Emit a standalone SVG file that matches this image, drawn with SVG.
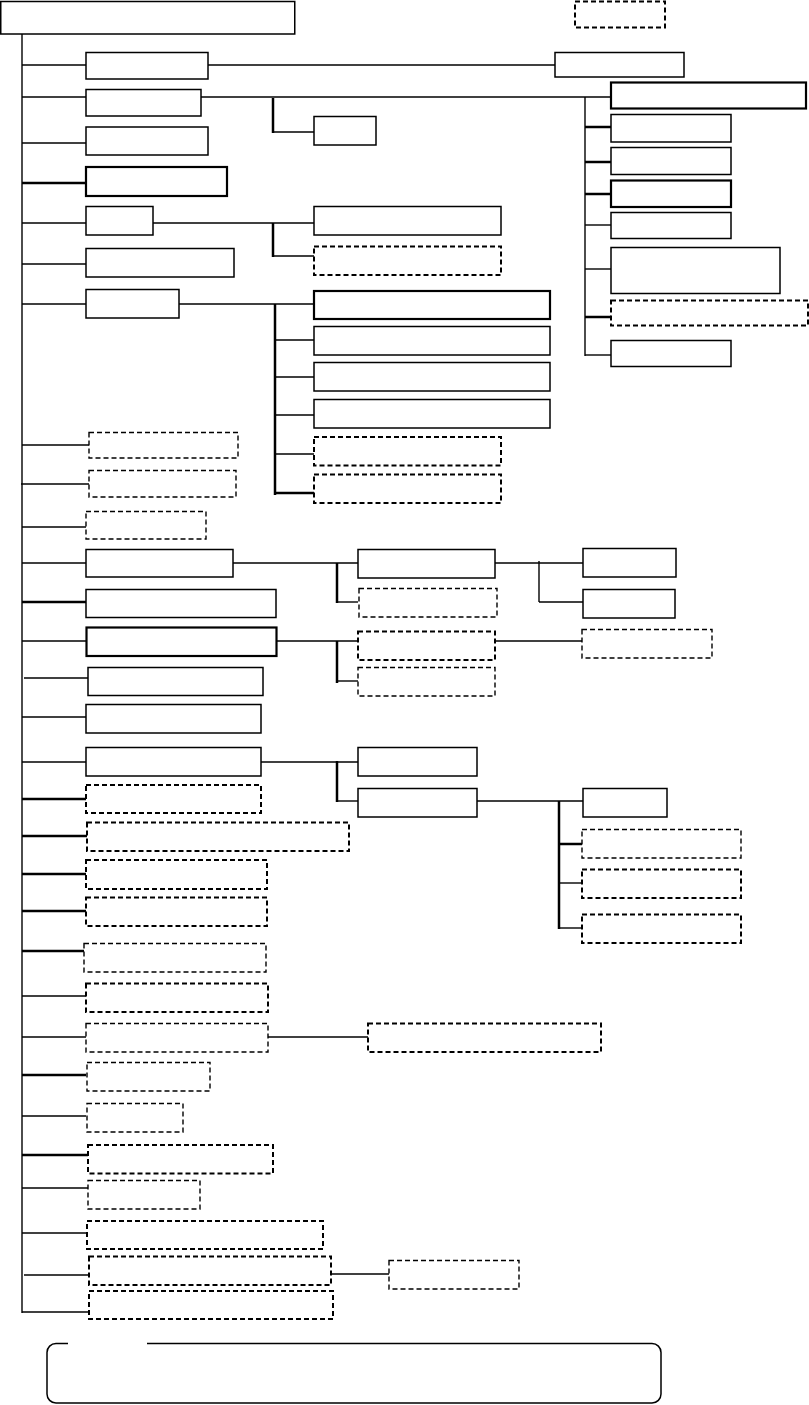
<svg xmlns="http://www.w3.org/2000/svg" width="809" height="1405" viewBox="0 0 809 1405">
<style>
rect{fill:#fff;stroke:#000;stroke-width:1.5}
.tk{stroke-width:2.2}
.d{stroke-dasharray:5 3;stroke-width:1.4}
.dt{stroke-dasharray:5 3;stroke-width:2}
#connectors line,#connectors path{stroke:#000;stroke-width:1.4;fill:none}
#connectors .t{stroke-width:2.5}
</style>
<g id="connectors">
<line x1="22" y1="34" x2="22" y2="1313"/>
<line x1="22" y1="65" x2="86" y2="65"/><line x1="208" y1="65" x2="555" y2="65"/>
<line x1="22" y1="97" x2="86" y2="97"/><line x1="201" y1="97" x2="611" y2="97"/>
<line class="t" x1="273" y1="98" x2="273" y2="133"/><line x1="273" y1="132" x2="314" y2="132"/>
<line x1="585" y1="97" x2="585" y2="356"/>
<line class="t" x1="585" y1="127" x2="611" y2="127"/>
<line class="t" x1="585" y1="162" x2="611" y2="162"/>
<line class="t" x1="585" y1="194" x2="611" y2="194"/>
<line x1="585" y1="225" x2="611" y2="225"/>
<line x1="585" y1="269" x2="611" y2="269"/>
<line class="t" x1="585" y1="317" x2="611" y2="317"/>
<line x1="585" y1="355" x2="611" y2="355"/>
<line x1="22" y1="143" x2="86" y2="143"/>
<line class="t" x1="22" y1="183" x2="86" y2="183"/>
<line x1="22" y1="223" x2="86" y2="223"/><line x1="153" y1="223" x2="314" y2="223"/>
<line class="t" x1="273" y1="223" x2="273" y2="257"/><line x1="273" y1="256" x2="314" y2="256"/>
<line x1="22" y1="264" x2="86" y2="264"/>
<line x1="22" y1="304" x2="86" y2="304"/><line x1="179" y1="304" x2="314" y2="304"/>
<line class="t" x1="275" y1="304" x2="275" y2="495"/>
<line x1="275" y1="340" x2="314" y2="340"/>
<line x1="275" y1="377" x2="314" y2="377"/>
<line x1="275" y1="415" x2="314" y2="415"/>
<line x1="275" y1="454" x2="314" y2="454"/>
<line class="t" x1="275" y1="493" x2="314" y2="493"/>
<line x1="22" y1="445" x2="89" y2="445"/>
<line x1="21" y1="484" x2="89" y2="484"/>
<line x1="22" y1="527" x2="86" y2="527"/>
<line x1="22" y1="563" x2="86" y2="563"/><line x1="233" y1="563" x2="358" y2="563"/>
<line class="t" x1="337" y1="563" x2="337" y2="603"/><line x1="337" y1="602" x2="358" y2="602"/>
<line x1="495" y1="563" x2="583" y2="563"/>
<line x1="539" y1="561" x2="539" y2="602"/><line x1="539" y1="602" x2="583" y2="602"/>
<line class="t" x1="22" y1="602" x2="86" y2="602"/>
<line x1="22" y1="641" x2="86" y2="641"/><line x1="276" y1="641" x2="358" y2="641"/>
<line class="t" x1="337" y1="641" x2="337" y2="683"/><line x1="337" y1="681" x2="358" y2="681"/>
<line x1="495" y1="641" x2="582" y2="641"/>
<line x1="24" y1="678" x2="88" y2="678"/>
<line x1="22" y1="717" x2="86" y2="717"/>
<line x1="22" y1="762" x2="86" y2="762"/><line x1="261" y1="762" x2="358" y2="762"/>
<line class="t" x1="337" y1="761" x2="337" y2="802"/><line x1="337" y1="801" x2="358" y2="801"/>
<line x1="477" y1="801" x2="583" y2="801"/>
<line class="t" x1="559" y1="801" x2="559" y2="929"/>
<line class="t" x1="559" y1="844" x2="582" y2="844"/>
<line x1="559" y1="883" x2="582" y2="883"/>
<line x1="559" y1="928" x2="582" y2="928"/>
<line class="t" x1="22" y1="799" x2="86" y2="799"/>
<line class="t" x1="22" y1="836" x2="87" y2="836"/>
<line class="t" x1="22" y1="874" x2="86" y2="874"/>
<line class="t" x1="22" y1="911" x2="86" y2="911"/>
<line class="t" x1="22" y1="951" x2="84" y2="951"/>
<line x1="22" y1="996" x2="86" y2="996"/>
<line x1="22" y1="1037" x2="86" y2="1037"/><line x1="268" y1="1037" x2="368" y2="1037"/>
<line class="t" x1="22" y1="1075" x2="86" y2="1075"/>
<line x1="22" y1="1116" x2="86" y2="1116"/>
<line class="t" x1="22" y1="1155" x2="88" y2="1155"/>
<line x1="22" y1="1188" x2="88" y2="1188"/>
<line x1="22" y1="1233" x2="87" y2="1233"/>
<line x1="24" y1="1275" x2="89" y2="1275"/><line x1="331" y1="1274" x2="389" y2="1274"/>
<line x1="22" y1="1312" x2="89" y2="1312"/>
</g>
<g id="root"><rect x="0.75" y="1.5" width="294" height="32.5"/></g>
<g id="tag"><rect class="dt" x="575" y="1.5" width="90" height="26"/></g>
<g id="n1"><rect x="86" y="52.5" width="122" height="26.5"/></g>
<g id="n1a"><rect x="555" y="52.5" width="129" height="24.5"/></g>
<g id="n2"><rect x="86" y="89.5" width="115" height="26.5"/></g>
<g id="n2a"><rect x="314" y="116.5" width="62" height="28.5"/></g>
<g id="r1"><rect class="tk" x="611" y="82.5" width="195" height="26"/></g>
<g id="r2"><rect x="611" y="114.5" width="120" height="27.5"/></g>
<g id="r3"><rect x="611" y="147.5" width="120" height="27"/></g>
<g id="r4"><rect class="tk" x="611" y="180.5" width="120" height="26.5"/></g>
<g id="r5"><rect x="611" y="212.5" width="120" height="26"/></g>
<g id="r6"><rect x="611" y="247.5" width="169" height="46"/></g>
<g id="r7"><rect class="dt" x="611" y="300.5" width="197" height="25"/></g>
<g id="r8"><rect x="611" y="340.5" width="120" height="26"/></g>
<g id="n3"><rect x="86" y="127" width="122" height="28"/></g>
<g id="n4"><rect class="tk" x="86" y="167" width="141" height="29"/></g>
<g id="n5"><rect x="86" y="206.5" width="67" height="28.5"/></g>
<g id="n5a"><rect x="314" y="206.5" width="187" height="28.5"/></g>
<g id="n5b"><rect class="dt" x="314" y="246.5" width="187" height="28.5"/></g>
<g id="n6"><rect x="86" y="248.5" width="148" height="28.5"/></g>
<g id="n7"><rect x="86" y="289.5" width="93" height="28.5"/></g>
<g id="m1"><rect class="tk" x="314" y="291" width="236" height="28"/></g>
<g id="m2"><rect x="314" y="326.5" width="236" height="28.5"/></g>
<g id="m3"><rect x="314" y="362.5" width="236" height="28.5"/></g>
<g id="m4"><rect x="314" y="399.5" width="236" height="28.5"/></g>
<g id="m5"><rect class="dt" x="314" y="437" width="187" height="28.5"/></g>
<g id="m6"><rect class="dt" x="314" y="474.5" width="187" height="28.5"/></g>
<g id="n8"><rect class="d" x="89" y="432.5" width="149" height="25.5"/></g>
<g id="n9"><rect class="d" x="89" y="470.5" width="147" height="26.5"/></g>
<g id="n10"><rect class="d" x="86" y="511.5" width="120" height="27.5"/></g>
<g id="n11"><rect x="86" y="549.5" width="147" height="27.5"/></g>
<g id="n11a"><rect x="358" y="549.5" width="137" height="28.5"/></g>
<g id="n11b"><rect class="d" x="359" y="588.5" width="138" height="28.5"/></g>
<g id="n11c"><rect x="583" y="548.5" width="93" height="28.5"/></g>
<g id="n11d"><rect x="583" y="589.5" width="92" height="28.5"/></g>
<g id="n12"><rect x="86" y="589.5" width="190" height="28"/></g>
<g id="n13"><rect class="tk" x="86.5" y="627.5" width="190" height="28.5"/></g>
<g id="n13a"><rect class="dt" x="358" y="631.5" width="137" height="28.5"/></g>
<g id="n13b"><rect class="d" x="358" y="667.5" width="137" height="28.5"/></g>
<g id="n13c"><rect class="d" x="582" y="629.5" width="130" height="28.5"/></g>
<g id="n14"><rect x="88" y="667.5" width="175" height="28"/></g>
<g id="n15"><rect x="86" y="704.5" width="175" height="28.5"/></g>
<g id="n16"><rect x="86" y="747.5" width="175" height="28.5"/></g>
<g id="n16a"><rect x="358" y="747.5" width="119" height="28.5"/></g>
<g id="n16b"><rect x="358" y="788.5" width="119" height="28.5"/></g>
<g id="n16c"><rect x="583" y="788.5" width="84" height="28.5"/></g>
<g id="n16d"><rect class="d" x="582" y="829.5" width="159" height="28.5"/></g>
<g id="n16e"><rect class="dt" x="582" y="869.5" width="159" height="28.5"/></g>
<g id="n16f"><rect class="dt" x="582" y="914.5" width="159" height="28.5"/></g>
<g id="n17"><rect class="dt" x="86" y="785" width="175" height="28"/></g>
<g id="n18"><rect class="dt" x="87" y="822.5" width="262" height="28.5"/></g>
<g id="n19"><rect class="dt" x="86" y="860" width="181" height="29"/></g>
<g id="n20"><rect class="dt" x="86" y="897.5" width="181" height="28.5"/></g>
<g id="n21"><rect class="d" x="84" y="943.5" width="182" height="28.5"/></g>
<g id="n22"><rect class="dt" x="86" y="983.5" width="182" height="28.5"/></g>
<g id="n23"><rect class="d" x="86" y="1023.5" width="182" height="28.5"/></g>
<g id="n23a"><rect class="dt" x="368" y="1023.5" width="233" height="28.5"/></g>
<g id="n24"><rect class="d" x="87" y="1062.5" width="123" height="28.5"/></g>
<g id="n25"><rect class="d" x="87" y="1103.5" width="96" height="28.5"/></g>
<g id="n26"><rect class="dt" x="88" y="1145" width="185" height="28.5"/></g>
<g id="n27"><rect class="d" x="88" y="1180.5" width="112" height="28.5"/></g>
<g id="n28"><rect class="dt" x="87" y="1221" width="236" height="28"/></g>
<g id="n29"><rect class="dt" x="89" y="1256.5" width="242" height="28.5"/></g>
<g id="n29a"><rect class="d" x="389" y="1260.5" width="130" height="28.5"/></g>
<g id="n30"><rect class="dt" x="89" y="1291" width="244" height="28"/></g>
<g id="legend"><path d="M147,1343.5 H652 A9,9 0 0 1 661,1352.5 V1394 A9,9 0 0 1 652,1403 H56 A9,9 0 0 1 47,1394 V1352.5 A9,9 0 0 1 56,1343.5 H68" fill="none" stroke="#000" stroke-width="1.5"/></g>
</svg>
